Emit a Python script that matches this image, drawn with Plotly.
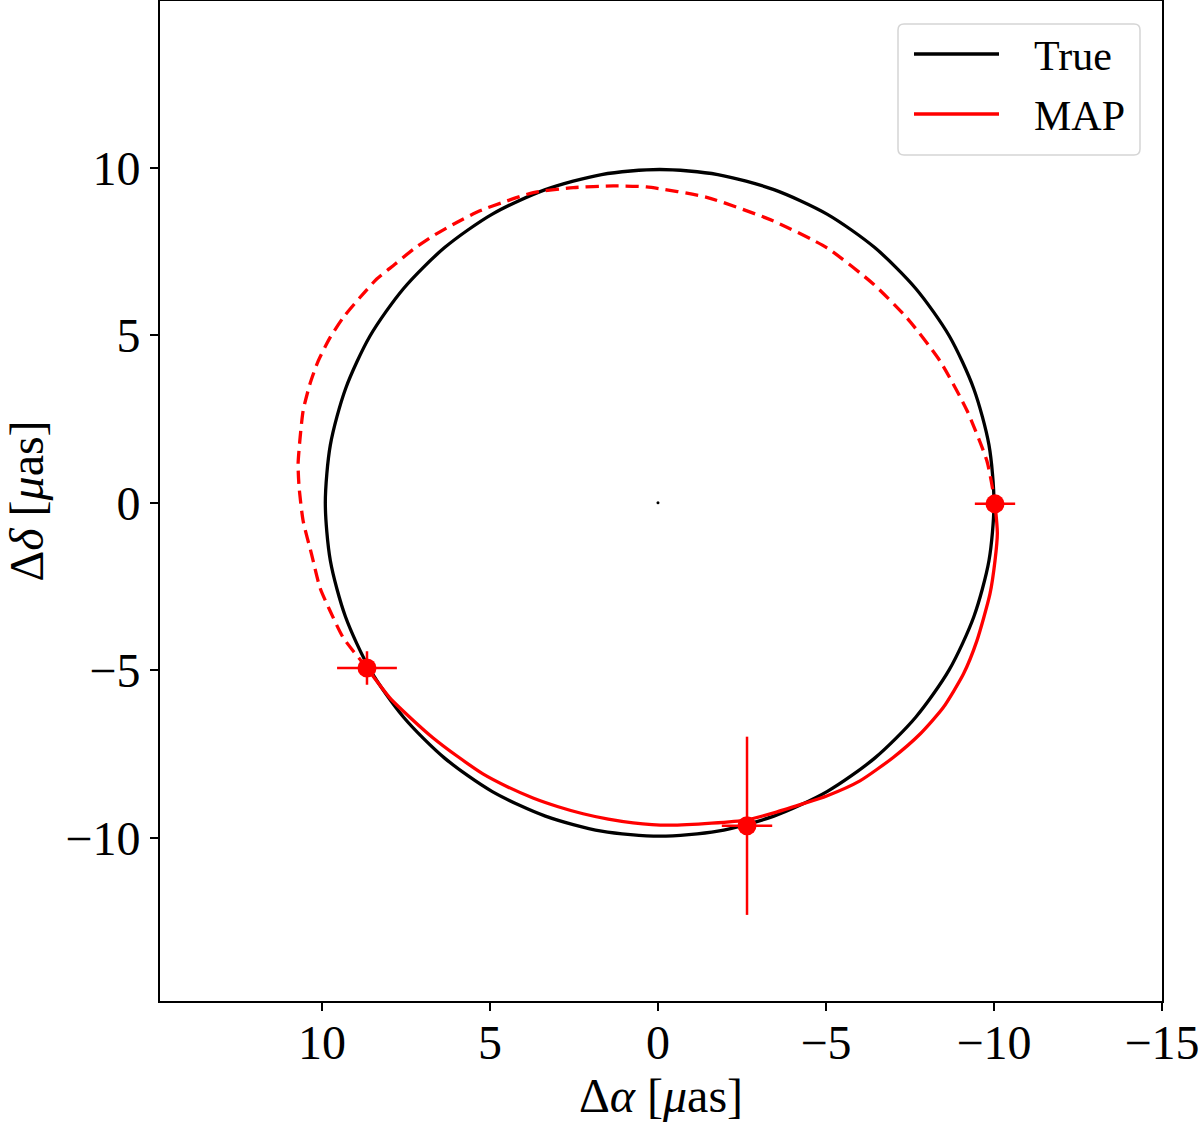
import plotly.graph_objects as go

# true orbit (uas)
true_ra = [9.9, 9.75, 9.3, 8.57, 7.57, 6.35, 4.93, 3.35, 1.68, -0.05, -1.78, -3.45, -5.03, -6.45,
           -7.67, -8.67, -9.4, -9.85, -10.0, -9.85, -9.4, -8.67, -7.67, -6.45, -5.03, -3.45,
           -1.78, -0.05, 1.68, 3.35, 4.93, 6.35, 7.57, 8.57, 9.3, 9.75, 9.9]
true_dec = [0.0, 1.73, 3.4, 4.98, 6.4, 7.62, 8.62, 9.35, 9.8, 9.95, 9.8, 9.35, 8.62, 7.62,
            6.4, 4.98, 3.4, 1.73, 0.0, -1.73, -3.4, -4.98, -6.4, -7.62, -8.62, -9.35,
            -9.8, -9.95, -9.8, -9.35, -8.62, -7.62, -6.4, -4.98, -3.4, -1.73, 0.0]

# MAP orbit, observed arc (solid)
map_ra = [8.66, 7.98, 7.33, 6.7, 5.95, 5.21, 4.47, 3.72, 2.97, 2.23, 1.48, 0.74, -0.3, -1.6,
          -2.65, -3.5, -4.23, -5.02, -6.01, -7.0, -7.8, -8.49, -9.09, -9.49, -9.88,
          -10.03, -10.1, -10.03]
map_dec = [-4.93, -5.82, -6.45, -7.01, -7.58, -8.09, -8.48, -8.81, -9.07, -9.28, -9.44, -9.55,
           -9.62, -9.56, -9.46, -9.24, -9.01, -8.75, -8.3, -7.6, -6.9, -6.11, -5.11, -4.12,
           -2.72, -1.73, -0.9, -0.03]

# MAP orbit, unobserved arc (dashed)
map_ra_dash = [8.66, 9.37, 9.76, 10.06, 10.31, 10.56, 10.68, 10.71, 10.65, 10.56, 10.36, 10.11,
               9.76, 9.37, 8.87, 8.37, 7.83, 7.28, 6.69, 5.99, 5.3, 4.5, 3.71, 2.52, 1.33,
               0.34, -1.45, -3.42, -5.03, -6.4, -7.41, -8.39, -9.2, -9.79, -9.97, -10.03]
map_dec_dash = [-4.93, -4.02, -3.22, -2.53, -1.53, -0.54, 0.46, 1.16, 1.95, 2.75, 3.54, 4.24,
                4.93, 5.53, 6.13, 6.68, 7.12, 7.57, 7.97, 8.37, 8.72, 9.01, 9.26, 9.41, 9.46,
                9.43, 9.12, 8.42, 7.61, 6.54, 5.52, 4.24, 2.75, 1.25, 0.36, -0.03]

# observations with errors
obs_ra = [8.66, -2.65, -10.03]
obs_dec = [-4.93, -9.64, -0.03]
obs_ra_err = [0.89, 0.75, 0.6]
obs_dec_err = [0.5, 2.66, 0.25]

legend_names = ["True", "MAP"]
legend_colors = ["black", "red"]

font = "Liberation Serif, Times New Roman, serif"

fig = go.Figure()
fig.add_trace(go.Scatter(x=true_ra, y=true_dec, mode="lines", name="True",
                         line=dict(color="black", width=3.3, shape="spline", smoothing=0.8)))
fig.add_trace(go.Scatter(x=map_ra, y=map_dec, mode="lines", name="MAP",
                         line=dict(color="red", width=3.3, shape="spline", smoothing=0.6)))
fig.add_trace(go.Scatter(x=map_ra_dash, y=map_dec_dash, mode="lines",
                         line=dict(color="red", width=3.3, dash="13px,7px", shape="spline", smoothing=0.6)))
fig.add_trace(go.Scatter(x=obs_ra, y=obs_dec, mode="markers",
                         marker=dict(color="red", size=19),
                         error_x=dict(type="data", array=obs_ra_err, color="red", thickness=2.5, width=0),
                         error_y=dict(type="data", array=obs_dec_err, color="red", thickness=2.5, width=0)))
fig.add_trace(go.Scatter(x=[0], y=[0], mode="markers", marker=dict(color="black", size=3)))

axis_common = dict(showline=True, linecolor="black", linewidth=2, mirror=True,
                   ticks="outside", ticklen=8, tickwidth=1.8, tickcolor="black",
                   showgrid=False, zeroline=False, automargin=False,
                   tickfont=dict(family=font, size=48, color="black"))

fig.update_xaxes(range=[14.82, -15], tickvals=[10, 5, 0, -5, -10, -15], ticklabelstandoff=-10,
                 title=dict(text="Δ<i>α</i> [<i>μ</i>as]", font=dict(family=font, size=48, color="black"),
                            standoff=6),
                 **axis_common)
fig.update_yaxes(range=[-14.87, 14.98], tickvals=[10, 5, 0, -5, -10],
                 title=dict(text="Δ<i>δ</i> [<i>μ</i>as]", font=dict(family=font, size=48, color="black"),
                            standoff=38),
                 **axis_common)

# hand-drawn legend box (matplotlib style), in paper coords of the 1002x1000 plot area
pw, ph = 1002.0, 1000.0
def px(x):
    return (x - 160) / pw
def py(y):
    return (1000 - y) / ph

bx0, bx1, by0, by1, r = 898, 1140, 23, 154, 6
path = ("M {a},{b} L {c},{b} Q {d},{b} {d},{e} L {d},{f} Q {d},{g} {c},{g} "
        "L {a},{g} Q {h},{g} {h},{f} L {h},{e} Q {h},{b} {a},{b} Z").format(
    a=px(bx0 + r), b=py(by0), c=px(bx1 - r), d=px(bx1), e=py(by0 + r),
    f=py(by1 - r), g=py(by1), h=px(bx0))
shapes = [dict(type="path", xref="paper", yref="paper", path=path,
               line=dict(color="#d5d5d5", width=1.5), fillcolor="rgba(255,255,255,0.8)", layer="above")]
annotations = []
for i, (nm, col) in enumerate(zip(legend_names, legend_colors)):
    yy = 53 + 60 * i
    shapes.append(dict(type="line", xref="paper", yref="paper",
                       x0=px(914), x1=px(999), y0=py(yy), y1=py(yy),
                       line=dict(color=col, width=3.5), layer="above"))
    annotations.append(dict(xref="paper", yref="paper", x=px(1032), y=py(yy + 2),
                            xanchor="left", yanchor="middle", text=nm, showarrow=False,
                            font=dict(family=font, size=42, color="black")))

fig.update_layout(
    width=1200, height=1122,
    margin=dict(l=160, r=38, t=1, b=121),
    plot_bgcolor="white", paper_bgcolor="white",
    font=dict(family=font, size=48, color="black"),
    showlegend=False,
    shapes=shapes,
    annotations=annotations,
)

# page has a default 8px body margin; drop it so the figure sits at the window corner
fig.write_html("out.html", config={"displayModeBar": False},
               post_script="document.body.style.margin='0';")
